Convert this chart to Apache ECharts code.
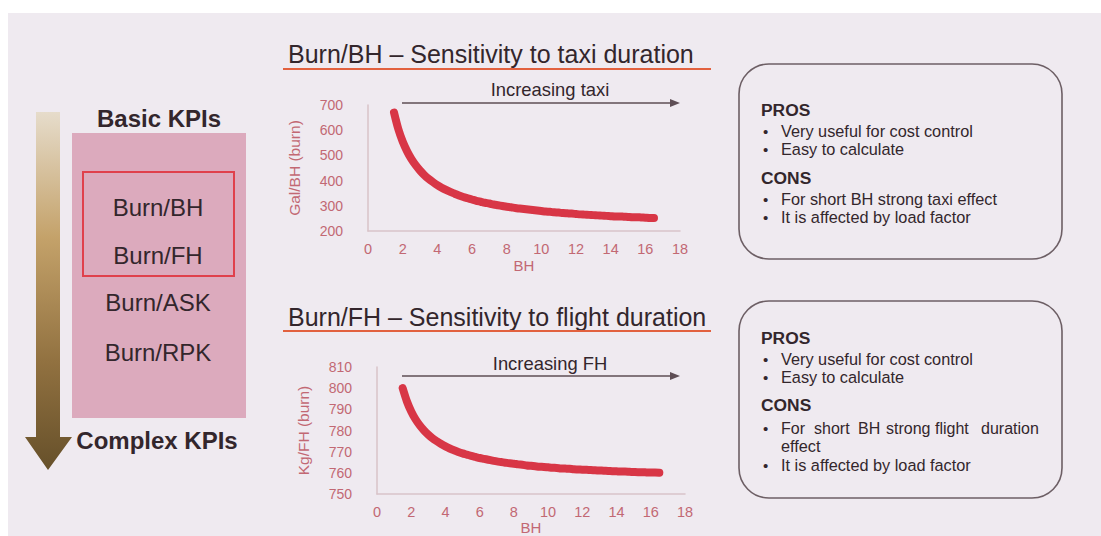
<!DOCTYPE html>
<html><head><meta charset="utf-8">
<script src="https://cdn.jsdelivr.net/npm/echarts@6/dist/echarts.min.js"></script>
<style>
html,body{margin:0;padding:0;background:#fff}
#c{width:1101px;height:536px;background:linear-gradient(#efeaf0,#efeaf0) no-repeat 8px 13px / 1093px 523px, #fff;}
</style>
</head><body><div id="c"></div>
<script>
// Block hours (x values shared by both charts)
const bhX = [1.5,1.75,2,2.25,2.5,2.75,3,3.25,3.5,3.75,4,4.25,4.5,4.75,5,5.25,5.5,5.75,6,6.25,6.5,6.75,7,7.25,7.5,7.75,8,8.25,8.5,8.75,9,9.25,9.5,9.75,10,10.25,10.5,10.75,11,11.25,11.5,11.75,12,12.25,12.5,12.75,13,13.25,13.5,13.75,14,14.25,14.5,14.75,15,15.25,15.5,15.75,16,16.25,16.5];
// Gal/BH (burn)
const galPerBH = [670,604,555,517,486,461,440,422,407,394,382,372,363,355,348,341,335,330,325,320,316,312,309,305,302,299,296,294,291,289,287,285,283,281,279,277,276,274,273,271,270,269,267.5,266,265,264,263,262,261,260,259,258,258,257,256,255,255,254,253,252,252];
// Kg/FH (burn)
const kgPerFH = [800,793.7,789,785.3,782.4,780,778,776.3,774.9,773.6,772.5,771.5,770.7,769.9,769.2,768.6,768,767.5,767,766.6,766.2,765.8,765.4,765.1,764.8,764.5,764.3,764,763.8,763.5,763.3,763.1,762.9,762.8,762.6,762.4,762.3,762.1,762,761.9,761.7,761.6,761.5,761.4,761.3,761.2,761.1,761,760.9,760.8,760.7,760.6,760.6,760.5,760.4,760.3,760.3,760.2,760.1,760.1,760];
const kpiList = ['Burn/BH','Burn/FH','Burn/ASK','Burn/RPK'];
const titles = ['Burn/BH \u2013 Sensitivity to taxi duration','Burn/FH \u2013 Sensitivity to flight duration'];
const arrowLabels = ['Increasing taxi','Increasing FH'];
const yNames = ['Gal/BH (burn)','Kg/FH (burn)'];
const xName = 'BH';
const pros = ['Very useful for cost control','Easy to calculate'];
const cons1 = ['For short BH strong taxi effect','It is affected by load factor'];
const cons2a = ['For','short','BH','strong','flight','duration'];
const cons2b = ['effect','It is affected by load factor'];

const FONT = '"Liberation Sans", Arial, sans-serif';
const DARK = '#33262c';
const ROSE = '#c26873';
const AXIS = '#d9c3c9';
const RED = '#d83646';

const chart = echarts.init(document.getElementById('c'), null, {renderer:'svg'});

function txt(x,y,s,size,opt){
  opt = opt || {};
  return {type:'text', x:x, y:y, silent:true, style:Object.assign({text:s, fill:DARK, font:(opt.bold?'bold ':'')+size+'px '+FONT, align:opt.align||'left', verticalAlign:'middle'}, opt.style||{})};
}

const g = [];
// left gradient arrow
g.push({type:'polygon', silent:true, shape:{points:[[36,112],[60,112],[60,437],[72,437],[48,470],[25,437],[36,437]]},
  style:{fill:new echarts.graphic.LinearGradient(0,0,0,1,[{offset:0,color:'#e6dccb'},{offset:0.35,color:'#c4a26a'},{offset:0.7,color:'#917140'},{offset:1,color:'#66502a'}])}});
g.push({type:'rect', silent:true, shape:{x:72,y:133,width:174,height:285}, style:{fill:'#dcaabd'}});
g.push({type:'rect', silent:true, shape:{x:83,y:172,width:151,height:104}, style:{fill:'none', stroke:'#e0404c', lineWidth:2}});
g.push(txt(159,118,'Basic KPIs',24,{bold:true,align:'center'}));
g.push(txt(157,440,'Complex KPIs',24,{bold:true,align:'center'}));
const kpiY = [207,255,302,352];
kpiList.forEach((k,i)=>g.push(txt(158,kpiY[i],k,24,{align:'center'})));

// titles, underlines, arrows
const titleY = [54,317], lineY = [69,331], arrY = [103,376], arrTxtY = [89,363];
for (let i=0;i<2;i++){
  g.push(txt(288,titleY[i],titles[i],25));
  g.push({type:'line', silent:true, shape:{x1:283,y1:lineY[i],x2:711,y2:lineY[i]}, style:{stroke:'#e2613f', lineWidth:2}});
  g.push(txt(550,arrTxtY[i],arrowLabels[i],18.4,{align:'center'}));
  g.push({type:'line', silent:true, shape:{x1:402,y1:arrY[i],x2:672,y2:arrY[i]}, style:{stroke:'#5e4e55', lineWidth:1.5}});
  g.push({type:'polygon', silent:true, shape:{points:[[670,arrY[i]-4],[680,arrY[i]],[670,arrY[i]+4]]}, style:{fill:'#5e4e55'}});
}

// right boxes
g.push({type:'rect', silent:true, shape:{x:739,y:64,width:323,height:195,r:30}, style:{fill:'none', stroke:'#6d5f65', lineWidth:1.6}});
g.push({type:'rect', silent:true, shape:{x:739,y:301,width:323,height:197,r:30}, style:{fill:'none', stroke:'#6d5f65', lineWidth:1.6}});
function bullet(y,s){ g.push(txt(763,y,'\u2022',15)); g.push(txt(781,y,s,16.3)); }
g.push(txt(761,110,'PROS',17.4,{bold:true}));
bullet(131,pros[0]); bullet(149,pros[1]);
g.push(txt(761,178,'CONS',17.4,{bold:true}));
bullet(199,cons1[0]); bullet(217,cons1[1]);

g.push(txt(761,338,'PROS',17.4,{bold:true}));
bullet(359,pros[0]); bullet(377,pros[1]);
g.push(txt(761,405,'CONS',17.4,{bold:true}));
g.push(txt(763,428,'\u2022',15));
const wordX = [781,814,858,886,935,981];
cons2a.forEach((w,i)=>g.push(txt(wordX[i],428,w,16)));
g.push(txt(781,446,cons2b[0],16.3));
bullet(465,cons2b[1]);

function xAxis(idx){
  return {type:'value', gridIndex:idx, min:0, max:18, interval:2, name:xName, nameLocation:'middle', nameGap:idx?25:27,
    nameTextStyle:{color:ROSE, fontSize:15, fontFamily:FONT},
    axisLine:{lineStyle:{color:AXIS, width:1.5}}, axisTick:{show:false}, splitLine:{show:false},
    axisLabel:{color:ROSE, fontSize:14.5, fontFamily:FONT, margin:10}};
}
function yAxis(idx,min,max,interval,name){
  return {type:'value', gridIndex:idx, min:min, max:max, interval:interval, name:name, nameLocation:'middle', nameGap:66,
    nameTextStyle:{color:ROSE, fontSize:15.5, fontFamily:FONT},
    axisLine:{show:true, lineStyle:{color:AXIS, width:1.5}}, axisTick:{show:false}, splitLine:{show:false},
    axisLabel:{color:ROSE, fontSize:14, fontFamily:FONT, margin:25}};
}
function curve(idx, ys){
  return {type:'line', xAxisIndex:idx, yAxisIndex:idx, smooth:0.3, showSymbol:false, symbol:'none',
    lineStyle:{color:RED, width:8, cap:'round', join:'round'},
    data:bhX.map((x,i)=>[x,ys[i]])};
}

chart.setOption({
  backgroundColor:'transparent',
  animation:false,
  grid:[
    {left:368, right:421, top:105, bottom:305, containLabel:false, outerBoundsMode:'none'},
    {left:377, right:416, top:367, bottom:42, containLabel:false, outerBoundsMode:'none'}
  ],
  xAxis:[xAxis(0), xAxis(1)],
  yAxis:[yAxis(0,200,700,100,yNames[0]), yAxis(1,750,810,10,yNames[1])],
  series:[curve(0,galPerBH), curve(1,kgPerFH)],
  graphic:g
});
</script>
</body></html>
